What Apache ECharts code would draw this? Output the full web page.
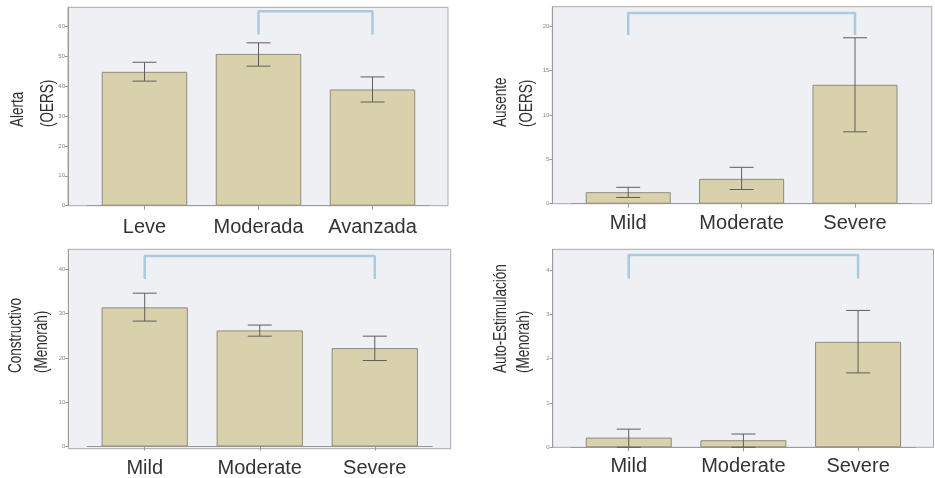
<!DOCTYPE html>
<html>
<head>
<meta charset="utf-8">
<script src="https://cdn.jsdelivr.net/npm/echarts@6/dist/echarts.min.js"></script>
<style>
html,body{margin:0;padding:0;background:#fff;}
#chart{width:935px;height:478px;}
</style>
</head>
<body>
<div id="chart"></div>
<script>
// ---- data ----
const catsEs = ['Leve', 'Moderada', 'Avanzada'];
const catsEn = ['Mild', 'Moderate', 'Severe'];

const alertaMean = [44.8, 50.8, 38.9];
const alertaLow  = [41.7, 46.7, 34.7];
const alertaHigh = [48.0, 54.5, 43.1];
const alertaTicks = [0, 10, 20, 30, 40, 50, 60];
const alertaBracketCats = ['Moderada', 'Avanzada'];
const alertaBracketY = [57.3, 65.1];

const ausenteMean = [1.3, 2.8, 13.4];
const ausenteLow  = [0.7, 1.6, 8.1];
const ausenteHigh = [1.85, 4.1, 18.7];
const ausenteTicks = [0, 5, 10, 15, 20];
const ausenteBracketCats = ['Mild', 'Severe'];
const ausenteBracketY = [19.0, 21.5];

const constructivoMean = [31.4, 26.2, 22.2];
const constructivoLow  = [28.3, 24.9, 19.4];
const constructivoHigh = [34.6, 27.4, 24.9];
const constructivoTicks = [0, 10, 20, 30, 40];
const constructivoBracketCats = ['Mild', 'Severe'];
const constructivoBracketY = [37.8, 43.0];

const autoMean = [0.22, 0.16, 2.38];
const autoLow  = [0.0, 0.0, 1.68];
const autoHigh = [0.41, 0.30, 3.09];
const autoTicks = [0, 1, 2, 3, 4];
const autoBracketCats = ['Mild', 'Severe'];
const autoBracketY = [3.81, 4.34];

const titles = [
  ['Alerta', '(OERS)'],
  ['Ausente', '(OERS)'],
  ['Constructivo', '(Menorah)'],
  ['Auto-Estimulación', '(Menorah)']
];

const panelData = [
  {cats: catsEs, mean: alertaMean, low: alertaLow, high: alertaHigh, ticks: alertaTicks, bCats: alertaBracketCats, bY: alertaBracketY},
  {cats: catsEn, mean: ausenteMean, low: ausenteLow, high: ausenteHigh, ticks: ausenteTicks, bCats: ausenteBracketCats, bY: ausenteBracketY},
  {cats: catsEn, mean: constructivoMean, low: constructivoLow, high: constructivoHigh, ticks: constructivoTicks, bCats: constructivoBracketCats, bY: constructivoBracketY},
  {cats: catsEn, mean: autoMean, low: autoLow, high: autoHigh, ticks: autoTicks, bCats: autoBracketCats, bY: autoBracketY}
];

// ---- layout (pixels) ----
const W = 935, H = 478;
const layouts = [
  {frame: [68, 7.3, 448, 205.7], band: [87.5, 429.5], yMax: 66.4, labelMargin: 11.5, titleBase: [24, 54], titleBottom: 127},
  {frame: [552.3, 6.7, 931.7, 203.7], band: [571.5, 911.7], yMax: 22.2, labelMargin: 10, titleBase: [507, 533], titleBottom: 127},
  {frame: [68.3, 249.3, 450.7, 448.7], band: [87.2, 432.3], yMax: 44.5, labelMargin: 11.5, titleBase: [22.7, 48], titleBottom: 373},
  {frame: [552.7, 249.3, 933.5, 447.3], band: [571.4, 915.4], yMax: 4.47, labelMargin: 9.5, titleBase: [507, 530], titleBottom: 373}
];

const BAR_FILL = '#d9d1ab';
const BAR_BORDER = '#8e8c80';
const PLOT_BG = '#eef0f3';
const FRAME = '#a9a9a9';
const BRACKET = '#a9cae0';
const ERR = '#5e5e5e';
const TITLE_FS = 18;

const grids = [], xAxes = [], yAxes = [], series = [], graphics = [];

layouts.forEach((L, i) => {
  const D = panelData[i];
  const [fx0, fy0, fx1, fy1] = L.frame;
  grids.push({left: L.band[0], right: W - L.band[1], top: fy0, bottom: H - fy1, containLabel: false});
  xAxes.push({
    type: 'category', gridIndex: i, data: D.cats, boundaryGap: true,
    axisLine: {show: true, lineStyle: {color: '#9a9a9a', width: 1}},
    axisTick: {show: true, alignWithLabel: true, length: 4, lineStyle: {color: '#9a9a9a'}},
    axisLabel: {interval: 0, hideOverlap: false, fontSize: 20, color: '#333', fontFamily: 'Liberation Sans, Arial, sans-serif', margin: L.labelMargin}
  });
  yAxes.push({
    type: 'value', gridIndex: i, min: 0, max: L.yMax, offset: L.band[0] - fx0,
    splitLine: {show: false},
    axisLine: {show: true, lineStyle: {color: '#9a9a9a', width: 1}},
    axisTick: {show: true, length: 3, customValues: D.ticks, lineStyle: {color: '#9a9a9a'}},
    axisLabel: {fontSize: 6, color: '#888', margin: 3, customValues: D.ticks, fontFamily: 'Liberation Sans, Arial, sans-serif'}
  });
  series.push({
    type: 'bar', xAxisIndex: i, yAxisIndex: i, data: D.mean, barWidth: '75%',
    itemStyle: {color: BAR_FILL, borderColor: BAR_BORDER, borderWidth: 1},
    silent: true, z: 2
  });
  series.push({
    type: 'custom', xAxisIndex: i, yAxisIndex: i, z: 3, silent: true,
    data: D.mean.map((m, k) => [k, D.low[k], D.high[k]]),
    renderItem: function (params, api) {
      const x = api.value(0);
      const lo = api.coord([x, api.value(1)]);
      const hi = api.coord([x, api.value(2)]);
      const hw = 12;
      const st = {stroke: ERR, lineWidth: 1};
      return {type: 'group', children: [
        {type: 'line', shape: {x1: lo[0], y1: lo[1], x2: hi[0], y2: hi[1]}, style: st},
        {type: 'line', shape: {x1: hi[0] - hw, y1: hi[1], x2: hi[0] + hw, y2: hi[1]}, style: st},
        {type: 'line', shape: {x1: lo[0] - hw, y1: lo[1], x2: lo[0] + hw, y2: lo[1]}, style: st}
      ]};
    }
  });
  series.push({
    type: 'line', xAxisIndex: i, yAxisIndex: i, z: 4, silent: true, symbol: 'none',
    lineStyle: {color: BRACKET, width: 2.5},
    data: [[D.bCats[0], D.bY[0]], [D.bCats[0], D.bY[1]], [D.bCats[1], D.bY[1]], [D.bCats[1], D.bY[0]]]
  });
  graphics.push({
    type: 'rect', z: -10, silent: true,
    shape: {x: fx0, y: fy0, width: fx1 - fx0, height: fy1 - fy0},
    style: {fill: PLOT_BG, stroke: FRAME, lineWidth: 1}
  });
  titles[i].forEach((t, j) => {
    graphics.push({
      type: 'text', z: 10, silent: true,
      x: L.titleBase[j] + 0.15 * TITLE_FS, y: L.titleBottom,
      rotation: Math.PI / 2, scaleX: 0.75, scaleY: 1,
      style: {text: t, font: TITLE_FS + 'px "Liberation Sans", Arial, sans-serif', fill: '#2e2e2e', textAlign: 'left', textVerticalAlign: 'bottom'}
    });
  });
});

const chart = echarts.init(document.getElementById('chart'), null, {renderer: 'canvas'});
chart.setOption({
  backgroundColor: '#ffffff',
  animation: false,
  grid: grids,
  xAxis: xAxes,
  yAxis: yAxes,
  series: series,
  graphic: graphics
});
</script>
</body>
</html>
